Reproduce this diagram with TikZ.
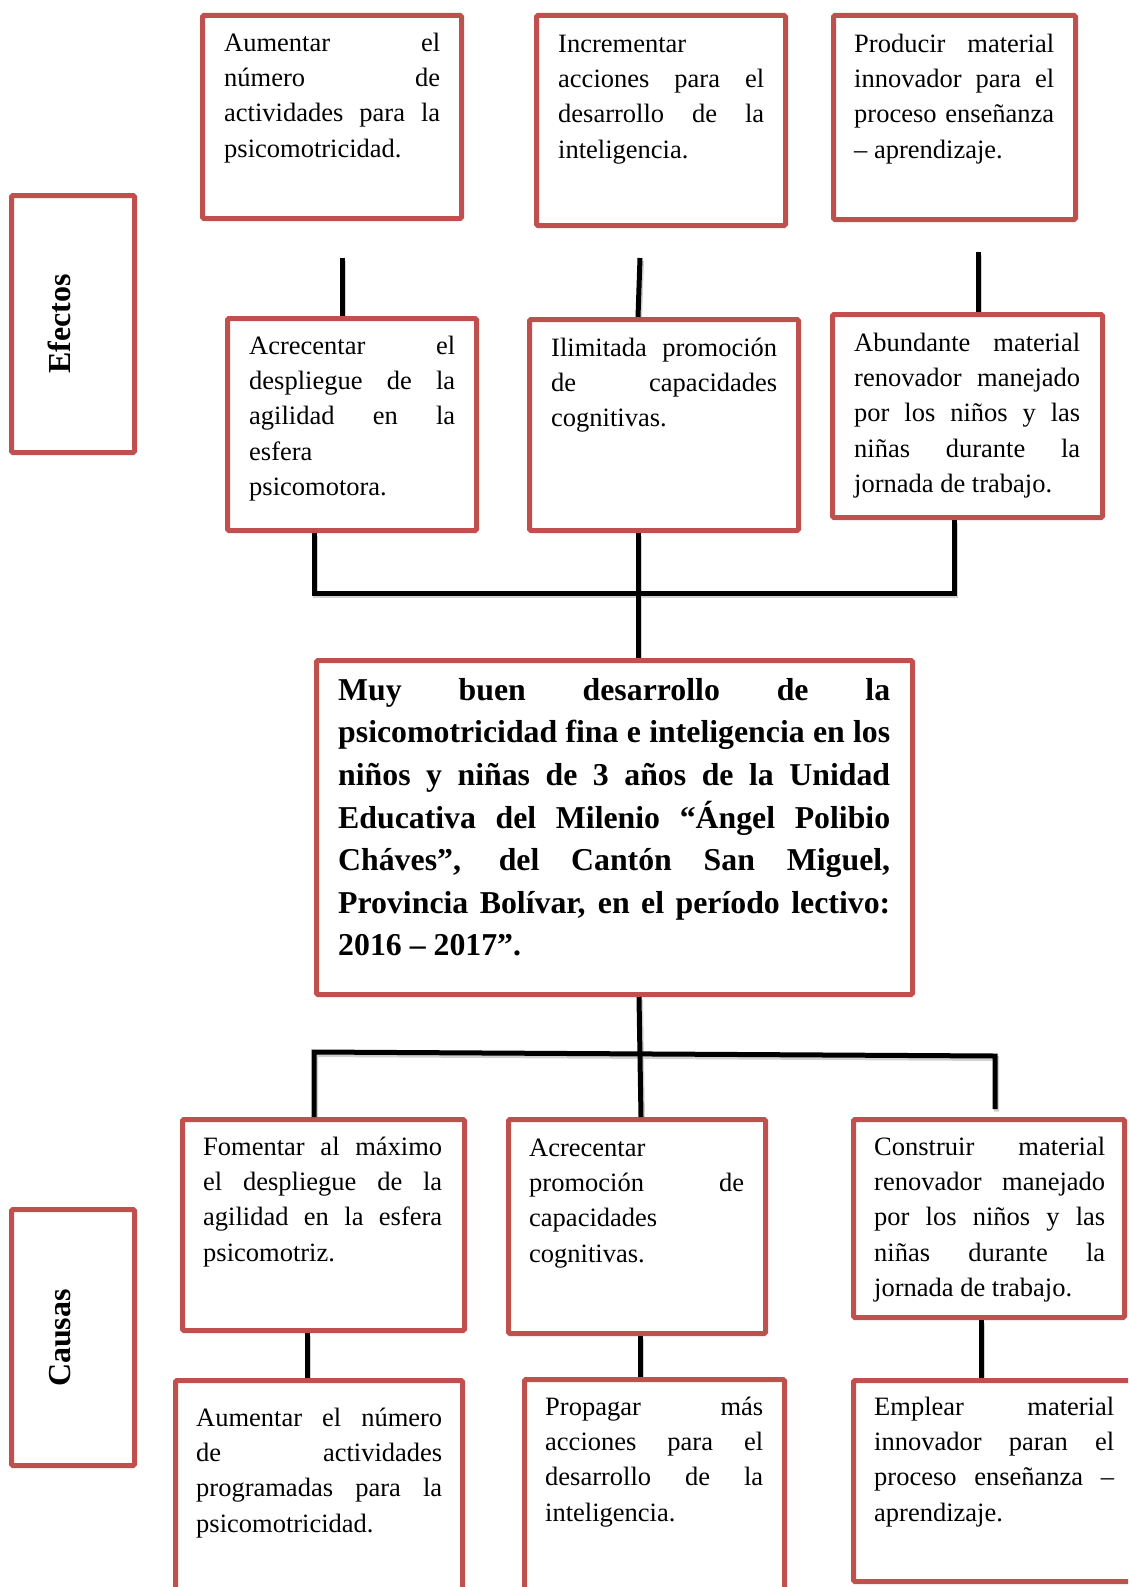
\documentclass[tikz,border=0pt]{standalone}
\usepackage{fontspec}
\setmainfont{Liberation Serif}
\usetikzlibrary{calc}
\definecolor{boxred}{HTML}{C0504D}
\pgfdeclarelayer{shadowlayer}
\pgfsetlayers{shadowlayer,main}
\hyphenpenalty=10000
\exhyphenpenalty=10000
\hbadness=10000
\tolerance=10000
\newcommand\mkbox[5]{%
  \node[box, minimum width={#4-#2-5}, minimum height={#5-#3-5}] (#1) at ({(#2+#4)/2},{(#3+#5)/2}) {};}
\newcommand\mktext[6]{%
  \pgfmathsetmacro\mytw{#4-#2}%
  \node[txt, text width=\mytw pt] (#1) at (#2,{#3-#5}) {\noindent\rule{0pt}{#5pt}#6};}
\newcommand\mkconn[1]{%
  \begin{pgfonlayer}{shadowlayer}\draw[connshadow] #1;\end{pgfonlayer}%
  \draw[conn] #1;}
\begin{document}
\begin{tikzpicture}[x=1pt,y=-1pt,
  box/.style={draw=boxred, line width=5pt, inner sep=0pt, rounded corners=1.5pt},
  txt/.style={anchor=north west, inner sep=0pt, align=justify, font=\fontsize{26.5}{35.3}\selectfont},
  bigtxt/.style={anchor=north west, inner sep=0pt, align=justify, font=\fontsize{31.8}{42.6}\selectfont\bfseries},
  lbl/.style={rotate=90, anchor=base, inner sep=0pt, font=\fontsize{32}{38}\selectfont\bfseries},
  conn/.style={draw=black, line width=5pt},
  connshadow/.style={draw=black!18, line width=5pt, transform canvas={xshift=1.5pt, yshift=-2.5pt}}]
\begin{pgfonlayer}{shadowlayer}
\fill[white] (0,0) rectangle (1128,1587);
\end{pgfonlayer}
\useasboundingbox (0,0) rectangle (1128,1587);
\clip (0,0) rectangle (1128,1587);

% side labels
\mkbox{efb}{9}{193}{137}{455}
\node[lbl] (efl) at (70,324) {Efectos};
\mkbox{cab}{9}{1207}{137}{1468}
\node[lbl] (cal) at (70,1338) {Causas};

% effects, top row
\mkbox{e1}{200}{13}{464}{221}
\mktext{e1t}{224}{51}{440}{21}{Aumentar el\linebreak número de\linebreak actividades para la\linebreak psicomotricidad.}
\mkbox{e2}{534}{13}{788}{228}
\mktext{e2t}{558}{52}{764}{21}{Incrementar\linebreak acciones para el\linebreak desarrollo de la\linebreak inteligencia.}
\mkbox{e3}{831}{13}{1078}{222}
\mktext{e3t}{854}{52}{1054}{21}{Producir material\linebreak innovador para el\linebreak proceso enseñanza\linebreak – aprendizaje.}

% effects, second row
\mkbox{f1}{225}{316}{479}{533}
\mktext{f1t}{249}{354}{455}{21}{Acrecentar el\linebreak despliegue de la\linebreak agilidad en la\linebreak esfera\linebreak psicomotora.}
\mkbox{f2}{527}{317}{801}{533}
\mktext{f2t}{551}{356}{777}{21}{Ilimitada promoción\linebreak de capacidades\linebreak cognitivas.}
\mkbox{f3}{830}{312}{1105}{520}
\mktext{f3t}{854}{351}{1080}{21}{Abundante material\linebreak renovador manejado\linebreak por los niños y las\linebreak niñas durante la\linebreak jornada de trabajo.}

% central problem
\mkbox{main}{314}{658}{915}{997}
\pgfmathsetmacro\mytw{890-338}
\node[bigtxt, text width=\mytw pt] (maint) at (338,{700-26}) {\noindent\rule{0pt}{26pt}Muy buen desarrollo de la\linebreak psicomotricidad fina e inteligencia en los\linebreak niños y niñas de 3 años de la Unidad\linebreak Educativa del Milenio “Ángel Polibio\linebreak Cháves”, del Cantón San Miguel,\linebreak Provincia Bolívar, en el período lectivo:\linebreak 2016 – 2017”.};

% causes, first row
\mkbox{c1}{180}{1117}{467}{1333}
\mktext{c1t}{203}{1155}{442}{21}{Fomentar al máximo\linebreak el despliegue de la\linebreak agilidad en la esfera\linebreak psicomotriz.}
\mkbox{c2}{506}{1117}{768}{1336}
\mktext{c2t}{529}{1156}{744}{21}{Acrecentar\linebreak promoción de\linebreak capacidades\linebreak cognitivas.}
\mkbox{c3}{851}{1117}{1127}{1320}
\mktext{c3t}{874}{1155}{1105}{21}{Construir material\linebreak renovador manejado\linebreak por los niños y las\linebreak niñas durante la\linebreak jornada de trabajo.}

% causes, second row
\mkbox{d1}{173}{1378}{465}{1600}
\mktext{d1t}{196}{1426}{442}{21}{Aumentar el número\linebreak de actividades\linebreak programadas para la\linebreak psicomotricidad.}
\mkbox{d2}{522}{1377}{787}{1600}
\mktext{d2t}{545}{1415}{763}{21}{Propagar más\linebreak acciones para el\linebreak desarrollo de la\linebreak inteligencia.}
\mkbox{d3}{851}{1378}{1140}{1584}
\mktext{d3t}{874}{1415}{1114}{21}{Emplear material\linebreak innovador paran el\linebreak proceso enseñanza –\linebreak aprendizaje.}

% connectors, effects
\coordinate (t1) at (342,258);
\coordinate (t2) at (640,258);
\coordinate (t3) at (978,252);
\mkconn{(t1) -- (t1 |- f1.north)}
\mkconn{(t2) -- ([xshift=111pt]f2.north west)}
\mkconn{(t3) -- ([xshift=148pt]f3.north west)}
\mkconn{([xshift=89pt]f1.south west) -- ++(0,60) -| ([xshift=124pt]f3.south west)}
\mkconn{([xshift=111pt]f2.south west) -- ([xshift=324pt]main.north west)}

% connectors, causes
\coordinate (bb) at (995,1109);
\mkconn{([xshift=325pt]main.south west) -- ([xshift=135pt]c2.north west)}
\mkconn{([xshift=134pt]c1.north west) -- (314,1052) -- (995,1056) -- (bb)}
\mkconn{([xshift=127pt]c1.south west) -- ([xshift=134pt]d1.north west)}
\mkconn{([xshift=134pt]c2.south west) -- ([xshift=118pt]d2.north west)}
\mkconn{([xshift=130pt]c3.south west) -- ([xshift=130pt]d3.north west)}
\end{tikzpicture}
\end{document}
